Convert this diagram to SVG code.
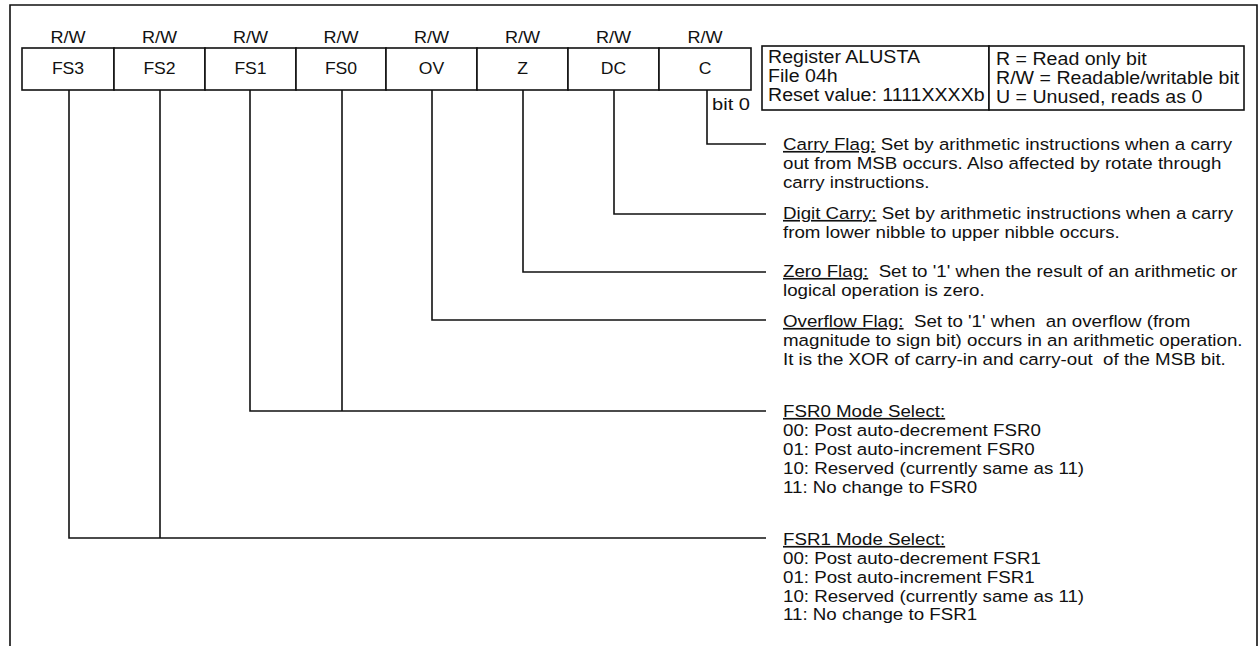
<svg xmlns="http://www.w3.org/2000/svg" width="1260" height="646" viewBox="0 0 1260 646">
<style>
text{font-family:"Liberation Sans",Arial,Helvetica,sans-serif;fill:#111}
.lbl{font-size:16px;text-anchor:middle}
.info{font-size:17.5px}
.desc{font-size:16.5px}
.u{text-decoration:underline}
.ln{fill:none;stroke:#111;stroke-width:1.6}
.box{fill:#fff;stroke:#111;stroke-width:1.6}
</style>
<rect width="1260" height="646" fill="#fff"/>
<g id="frame">
<path class="ln" d="M10,646 V5 H1257 V646"/>
</g>
<g id="connectors">
<path class="ln" d="M707,90 V144 H766"/>
<path class="ln" d="M614,90 V214 H766"/>
<path class="ln" d="M523,90 V272 H766"/>
<path class="ln" d="M432,90 V320 H766"/>
<path class="ln" d="M342,90 V411"/>
<path class="ln" d="M250,90 V411 H766"/>
<path class="ln" d="M160,90 V538"/>
<path class="ln" d="M69,90 V538 H766"/>
</g>
<g id="bit7"><rect class="box" x="22" y="48" width="92" height="42"/><text class="lbl" transform="matrix(1.13 0 0 1 68 43)">R/W</text><text class="lbl" transform="matrix(1.1 0 0 1 68 74)">FS3</text></g>
<g id="bit6"><rect class="box" x="114" y="48" width="91" height="42"/><text class="lbl" transform="matrix(1.13 0 0 1 159.5 43)">R/W</text><text class="lbl" transform="matrix(1.1 0 0 1 159.5 74)">FS2</text></g>
<g id="bit5"><rect class="box" x="205" y="48" width="91" height="42"/><text class="lbl" transform="matrix(1.13 0 0 1 250.5 43)">R/W</text><text class="lbl" transform="matrix(1.1 0 0 1 250.5 74)">FS1</text></g>
<g id="bit4"><rect class="box" x="296" y="48" width="90" height="42"/><text class="lbl" transform="matrix(1.13 0 0 1 341 43)">R/W</text><text class="lbl" transform="matrix(1.1 0 0 1 341 74)">FS0</text></g>
<g id="bit3"><rect class="box" x="386" y="48" width="91" height="42"/><text class="lbl" transform="matrix(1.13 0 0 1 431.5 43)">R/W</text><text class="lbl" transform="matrix(1.1 0 0 1 431.5 74)">OV</text></g>
<g id="bit2"><rect class="box" x="477" y="48" width="91" height="42"/><text class="lbl" transform="matrix(1.13 0 0 1 522.5 43)">R/W</text><text class="lbl" transform="matrix(1.1 0 0 1 522.5 74)">Z</text></g>
<g id="bit1"><rect class="box" x="568" y="48" width="91" height="42"/><text class="lbl" transform="matrix(1.13 0 0 1 613.5 43)">R/W</text><text class="lbl" transform="matrix(1.1 0 0 1 613.5 74)">DC</text></g>
<g id="bit0"><rect class="box" x="659" y="48" width="92" height="42"/><text class="lbl" transform="matrix(1.13 0 0 1 705 43)">R/W</text><text class="lbl" transform="matrix(1.1 0 0 1 705 74)">C</text><text class="desc" text-anchor="end" transform="matrix(1.22 0 0 1 750 110)">bit 0</text></g>
<g id="register-info">
<rect class="box" x="762" y="46" width="227" height="64"/>
<text class="info" transform="matrix(1.12 0 0 1 768 0)"><tspan x="0" y="63.5">Register ALUSTA</tspan><tspan x="0" y="82.5">File 04h</tspan><tspan x="0" y="101.5">Reset value: 1111XXXXb</tspan></text>
</g>
<g id="legend">
<rect class="box" x="989" y="46" width="255" height="64"/>
<text class="info" transform="matrix(1.12 0 0 1 996 0)"><tspan x="0" y="65.5">R = Read only bit</tspan><tspan x="0" y="84.5">R/W = Readable/writable bit</tspan><tspan x="0" y="103.5">U = Unused, reads as 0</tspan></text>
</g>
<g id="desc-carry">
<text class="desc" transform="matrix(1.135 0 0 1 783 0)"><tspan x="0" y="150"><tspan class="u">Carry Flag:</tspan> Set by arithmetic instructions when a carry</tspan><tspan x="0" y="169">out from MSB occurs. Also affected by rotate through</tspan><tspan x="0" y="188">carry instructions.</tspan></text>
</g>
<g id="desc-digit-carry">
<text class="desc" transform="matrix(1.135 0 0 1 783 0)"><tspan x="0" y="219"><tspan class="u">Digit Carry:</tspan> Set by arithmetic instructions when a carry</tspan><tspan x="0" y="238">from lower nibble to upper nibble occurs.</tspan></text>
</g>
<g id="desc-zero">
<text class="desc" transform="matrix(1.135 0 0 1 783 0)"><tspan x="0" y="277"><tspan class="u">Zero Flag:</tspan>&#160; Set to '1' when the result of an arithmetic or</tspan><tspan x="0" y="296">logical operation is zero.</tspan></text>
</g>
<g id="desc-overflow">
<text class="desc" transform="matrix(1.135 0 0 1 783 0)"><tspan x="0" y="327"><tspan class="u">Overflow Flag:</tspan>&#160; Set to '1' when&#160; an overflow (from</tspan><tspan x="0" y="346">magnitude to sign bit) occurs in an arithmetic operation.</tspan><tspan x="0" y="365">It is the XOR of carry-in and carry-out&#160; of the MSB bit.</tspan></text>
</g>
<g id="desc-fsr0">
<text class="desc" transform="matrix(1.135 0 0 1 783 0)"><tspan x="0" y="417" class="u">FSR0 Mode Select:</tspan><tspan x="0" y="436">00: Post auto-decrement FSR0</tspan><tspan x="0" y="455">01: Post auto-increment FSR0</tspan><tspan x="0" y="474">10: Reserved (currently same as 11)</tspan><tspan x="0" y="493">11: No change to FSR0</tspan></text>
</g>
<g id="desc-fsr1">
<text class="desc" transform="matrix(1.135 0 0 1 783 0)"><tspan x="0" y="545" class="u">FSR1 Mode Select:</tspan><tspan x="0" y="564">00: Post auto-decrement FSR1</tspan><tspan x="0" y="583">01: Post auto-increment FSR1</tspan><tspan x="0" y="602">10: Reserved (currently same as 11)</tspan><tspan x="0" y="620">11: No change to FSR1</tspan></text>
</g>
</svg>
